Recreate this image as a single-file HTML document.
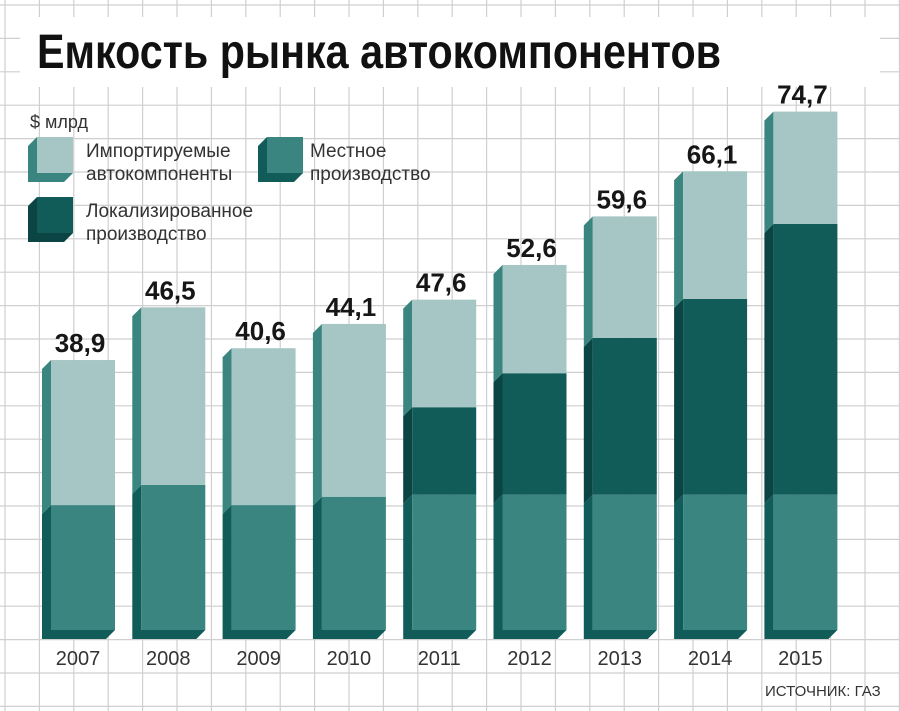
<!DOCTYPE html>
<html><head><meta charset="utf-8">
<style>
html,body{margin:0;padding:0;background:#fff;}
svg{display:block;font-family:"Liberation Sans","DejaVu Sans",sans-serif;}
</style></head>
<body>
<svg id="chart" width="900" height="711" viewBox="0 0 900 711" xmlns="http://www.w3.org/2000/svg">
<g id="grid"></g>
<rect x="20" y="17" width="860" height="70" fill="#fff"/>
<text x="37" y="68" font-size="48" font-weight="bold" fill="#111" textLength="684" lengthAdjust="spacingAndGlyphs">Емкость рынка автокомпонентов</text>
<text x="30" y="128" font-size="18" fill="#333">$ млрд</text>
<g>
  <g>
    <polygon points="37,137 28,146 28,182 64,182 73,173 37,173" fill="#3a8580"/>
    <rect x="37" y="137" width="36" height="36" fill="#a5c6c4"/>
    <text x="86" y="157" font-size="19" fill="#333">Импортируемые</text>
    <text x="86" y="180" font-size="19" fill="#333">автокомпоненты</text>
  </g>
  <g>
    <polygon points="267,137 258,146 258,182 294,182 303,173 267,173" fill="#115b59"/>
    <rect x="267" y="137" width="36" height="36" fill="#3a8580"/>
    <text x="310" y="157" font-size="19" fill="#333">Местное</text>
    <text x="310" y="180" font-size="19" fill="#333">производство</text>
  </g>
  <g>
    <polygon points="37,197 28,206 28,242 64,242 73,233 37,233" fill="#0a4443"/>
    <rect x="37" y="197" width="36" height="36" fill="#115b59"/>
    <text x="86" y="217" font-size="19" fill="#333">Локализированное</text>
    <text x="86" y="240" font-size="19" fill="#333">производство</text>
  </g>
</g>
<g id="bars"></g>
<text x="765" y="696" font-size="15" fill="#333">ИСТОЧНИК: ГАЗ</text>
</svg>
<script>
const years = ["2007","2008","2009","2010","2011","2012","2013","2014","2015"];
const localProd = [18.0,20.9,18.0,19.2,19.5,19.5,19.5,19.5,19.5];
const localizedProd = [0,0,0,0,12.6,17.5,22.6,28.2,39.0];
const importedParts = [20.9,25.6,22.6,24.9,15.5,15.6,17.5,18.4,16.2];
const totals = ["38,9","46,5","40,6","44,1","47,6","52,6","59,6","66,1","74,7"];

const NS = "http://www.w3.org/2000/svg";
const baseY = 630, scale = 6.94, x0 = 51, pitch = 90.3, bw = 64, d = 9;
const yPos = v => baseY - v * scale;
const xPos = i => x0 + i * pitch;
function mk(tag, attrs, parent){const e=document.createElementNS(NS,tag);for(const k in attrs)e.setAttribute(k,attrs[k]);parent.appendChild(e);return e;}

const grid = document.getElementById('grid');
for (let x = 5; x <= 900; x += 34.4) {
  const l = mk('line',{x1:x,y1:0,x2:x,y2:711,stroke:'#cfcfcf','stroke-width':1.2},grid);
  
  
}
for (let y = 5; y <= 711; y += 33.4) {
  const l = mk('line',{x1:0,y1:y,x2:900,y2:y,stroke:'#cfcfcf','stroke-width':1.2},grid);
  
  
}

const bars = document.getElementById('bars');
const segColors = [["#3a8580","#115b59"],["#115b59","#0a4443"],["#a5c6c4","#3a8580"]];
years.forEach((yr,i)=>{
  const g = mk('g',{},bars);
  
  
  const x = xPos(i);
  const vals = [localProd[i], localizedProd[i], importedParts[i]];
  const names = ['local','localized','imported'];
  let cum = 0;
  vals.forEach((v,s)=>{
    if (v <= 0) return;
    const yb = yPos(cum), yt = yPos(cum+v);
    cum += v;
    const isBottom = s === 0;
    const pts = isBottom
      ? [[x,yt],[x-d,yt+d],[x-d,yb+d],[x+bw-d,yb+d],[x+bw,yb],[x,yb]]
      : [[x,yt],[x-d,yt+d],[x-d,yb+d],[x,yb]];
    const side = mk('polygon',{points:pts.map(p=>p.join(',')).join(' '),fill:segColors[s][1]},g);
    
    
    const r = mk('rect',{x:x,y:yt,width:bw,height:yb-yt,fill:segColors[s][0]},g);
    
    
  });
  const total = localProd[i]+localizedProd[i]+importedParts[i];
  const vl = mk('text',{x:x+bw/2-3,y:yPos(total)-8,'font-size':26,'font-weight':'bold',fill:'#161616','text-anchor':'middle'},g);
  vl.textContent = totals[i];
  
  
  const yl = mk('text',{x:x+bw/2-5,y:665,'font-size':20,fill:'#333','text-anchor':'middle'},g);
  yl.textContent = yr;
  
  
});
</script>
</body></html>
